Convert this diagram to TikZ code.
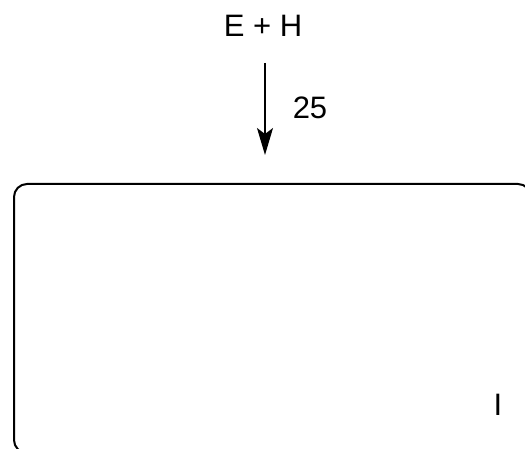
\documentclass[tikz,border=0pt]{standalone}
\usepackage{fontspec}
\setmainfont{Liberation Sans}
\usetikzlibrary{arrows.meta,positioning}
\tikzset{
    species/.style={inner sep=0pt, font=\fontsize{31}{37}\selectfont},
    rate/.style={inner sep=0pt, font=\fontsize{31}{37}\selectfont},
    cell/.style={draw, line width=2pt, rounded corners=13pt, minimum width=517pt, minimum height=269pt, anchor=north west, inner sep=0pt},
    flux/.style={line width=1.3pt, -{Stealth[length=27pt,width=16pt,inset=6pt]}},
}

\begin{document}
\begin{tikzpicture}[x=1pt,y=1pt,yscale=-1,xscale=1]
\useasboundingbox (0,0) rectangle (525,449);
\clip (0,0) rectangle (525,449);
%Rounded Rect
\node [cell] (box) at (13,183) {};
%Species
\node [species] (eh) at (263,25.5) {E + H};
\node [species] (int) at (498,405) {I};
%Straight Lines
\coordinate (start) at (265,63);
\coordinate (tip) at (265,155);
\draw [flux] (start) -- (tip);
\node [rate] (k) at (310,108) {25};
\end{tikzpicture}
\end{document}
